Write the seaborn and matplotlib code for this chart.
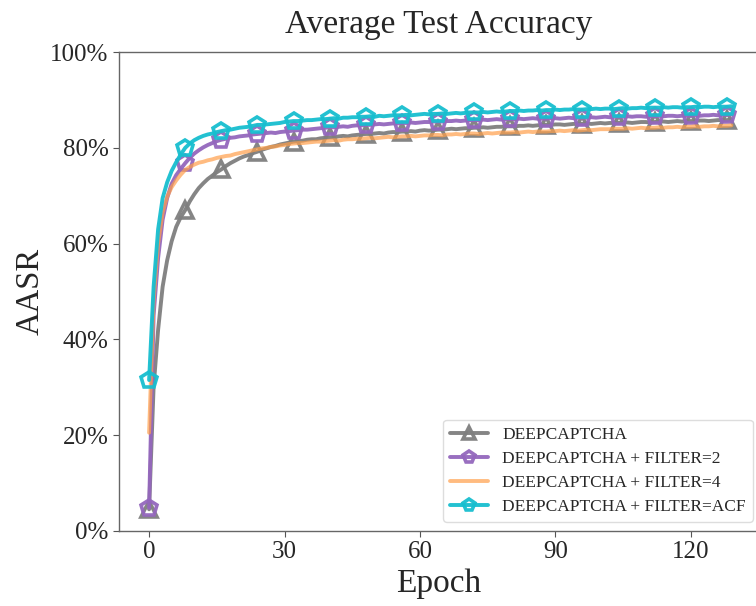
import matplotlib
matplotlib.use('Agg')
import matplotlib.pyplot as plt
import seaborn as sns
import pandas as pd
from matplotlib.ticker import PercentFormatter

epochs = list(range(130))

deepcaptcha = [
    4.5, 30.0, 42.0, 51.0, 56.5, 60.5, 63.5, 65.5, 67.0,
    68.8, 70.3, 71.6, 72.6, 73.5, 74.2, 74.9, 75.5,
    76.2, 76.8, 77.3, 77.8, 78.2, 78.5, 78.9, 79.2,
    79.6, 79.9, 80.2, 80.4, 80.7, 80.9, 81.1, 81.3,
    81.4, 81.5, 81.7, 81.8, 81.8, 82.0, 82.1, 82.2,
    82.2, 82.4, 82.5, 82.4, 82.6, 82.7, 82.8, 82.9,
    82.9, 83.0, 83.1, 83.0, 83.2, 83.3, 83.3, 83.4,
    83.4, 83.5, 83.4, 83.6, 83.7, 83.6, 83.7, 83.8,
    83.8, 83.9, 84.0, 83.9, 84.0, 84.1, 84.1, 84.2,
    84.2, 84.3, 84.2, 84.3, 84.4, 84.4, 84.5, 84.5,
    84.5, 84.6, 84.6, 84.7, 84.6, 84.7, 84.8, 84.8,
    84.8, 84.9, 84.9, 84.8, 84.9, 85.0, 85.0, 85.0,
    85.1, 85.0, 85.1, 85.2, 85.1, 85.2, 85.2, 85.2,
    85.3, 85.3, 85.2, 85.3, 85.4, 85.4, 85.3, 85.4,
    85.5, 85.5, 85.4, 85.5, 85.6, 85.5, 85.6, 85.6,
    85.6, 85.7, 85.7, 85.6, 85.7, 85.8, 85.8, 85.8,
    85.9,
]

filter_2 = [
    4.8, 45.0, 57.0, 65.0, 69.5, 72.5, 74.3, 75.6, 76.8,
    77.9, 78.8, 79.5, 80.1, 80.6, 81.0, 81.4, 81.7,
    81.9, 82.1, 82.2, 82.4, 82.5, 82.6, 82.8, 82.9,
    83.0, 83.1, 83.2, 83.1, 83.3, 83.4, 83.5, 83.6,
    83.7, 83.8, 83.8, 83.9, 84.0, 84.1, 84.2, 84.3,
    84.3, 84.4, 84.5, 84.4, 84.6, 84.7, 84.7, 84.8,
    84.8, 84.9, 85.0, 84.9, 85.0, 85.1, 85.1, 85.2,
    85.2, 85.3, 85.2, 85.3, 85.4, 85.4, 85.5, 85.5,
    85.5, 85.6, 85.6, 85.7, 85.6, 85.7, 85.8, 85.8,
    85.8, 85.9, 85.8, 85.9, 86.0, 85.9, 86.0, 86.0,
    86.0, 86.1, 86.0, 86.1, 86.2, 86.1, 86.1, 86.1,
    86.2, 86.2, 86.1, 86.2, 86.3, 86.2, 86.3, 86.3,
    86.3, 86.4, 86.3, 86.4, 86.5, 86.4, 86.5, 86.5,
    86.5, 86.6, 86.5, 86.6, 86.6, 86.5, 86.6, 86.6,
    86.7, 86.6, 86.7, 86.7, 86.6, 86.7, 86.7, 86.7,
    86.8, 86.7, 86.8, 86.8, 86.9, 86.8, 86.9, 86.9,
    87.0,
]

filter_4 = [
    20.5, 48.0, 60.0, 66.5, 69.8, 71.8, 73.2, 74.4, 75.4,
    76.0, 76.5, 76.9, 77.1, 77.4, 77.6, 77.9, 78.1,
    78.3, 78.4, 78.7, 78.9, 79.1, 79.3, 79.5, 79.7,
    79.9, 80.0, 80.2, 80.3, 80.5, 80.6, 80.8, 80.9,
    81.0, 81.0, 81.1, 81.2, 81.3, 81.3, 81.4, 81.5,
    81.6, 81.5, 81.7, 81.8, 81.8, 81.9, 81.9, 82.0,
    82.1, 82.0, 82.1, 82.2, 82.3, 82.2, 82.3, 82.4,
    82.4, 82.5, 82.4, 82.5, 82.6, 82.6, 82.7, 82.7,
    82.6, 82.8, 82.8, 82.9, 82.8, 82.9, 83.0, 83.0,
    82.9, 83.0, 83.1, 83.0, 83.1, 83.2, 83.2, 83.2,
    83.3, 83.2, 83.3, 83.4, 83.3, 83.4, 83.4, 83.4,
    83.5, 83.5, 83.6, 83.5, 83.6, 83.7, 83.6, 83.7,
    83.8, 83.7, 83.8, 83.9, 83.9, 83.9, 84.0, 84.0,
    84.0, 84.1, 84.0, 84.1, 84.2, 84.1, 84.2, 84.2,
    84.3, 84.2, 84.3, 84.3, 84.4, 84.3, 84.4, 84.4,
    84.5, 84.4, 84.5, 84.5, 84.6, 84.5, 84.6, 84.6,
    84.7,
]

filter_acf = [
    31.5, 51.0, 63.0, 69.5, 72.8, 75.2, 77.0, 78.6, 80.0,
    80.9, 81.6, 82.1, 82.5, 82.8, 83.0, 83.3, 83.5,
    83.7, 83.8, 84.0, 84.2, 84.3, 84.4, 84.6, 84.8,
    84.8, 84.9, 85.0, 85.1, 85.2, 85.4, 85.5, 85.6,
    85.6, 85.7, 85.8, 85.8, 85.9, 86.0, 86.0, 86.1,
    86.2, 86.1, 86.3, 86.3, 86.4, 86.4, 86.5, 86.5,
    86.6, 86.5, 86.7, 86.6, 86.7, 86.8, 86.8, 86.8,
    86.9, 86.8, 86.9, 87.0, 87.1, 87.0, 87.1, 87.1,
    87.2, 87.1, 87.2, 87.3, 87.2, 87.3, 87.4, 87.4,
    87.4, 87.5, 87.4, 87.5, 87.6, 87.5, 87.6, 87.7,
    87.7, 87.8, 87.7, 87.8, 87.8, 87.9, 87.8, 87.9,
    87.9, 88.0, 87.9, 88.0, 88.0, 88.1, 88.0, 88.0,
    88.1, 88.1, 88.2, 88.1, 88.2, 88.2, 88.1, 88.2,
    88.3, 88.2, 88.3, 88.3, 88.4, 88.3, 88.4, 88.4,
    88.4, 88.5, 88.4, 88.5, 88.5, 88.4, 88.5, 88.5,
    88.6, 88.5, 88.6, 88.6, 88.5, 88.6, 88.6, 88.6,
    88.7,
]

series_names = [
    'DEEPCAPTCHA',
    'DEEPCAPTCHA + FILTER=2',
    'DEEPCAPTCHA + FILTER=4',
    'DEEPCAPTCHA + FILTER=ACF',
]

sns.set_style('ticks')
plt.rcParams['font.family'] = ['Liberation Serif', 'DejaVu Serif']

fig = plt.figure(figsize=(7.56, 6.06), dpi=100)
# 右边框放在图像边缘之外（参考图中看不到右边框）
ax = fig.add_axes([0.1575, 0.124, 0.8455, 0.79])

# 样式：颜色、标记、透明度
styles = [
    dict(color='#7f7f7f', marker='^', alpha=0.95),
    dict(color='#9467bd', marker='p', alpha=0.95),
    dict(color='#ff9f4a', marker=None, alpha=0.7),
    dict(color='#17becf', marker='p', alpha=0.95),
]

for name, values, st in zip(series_names, [deepcaptcha, filter_2, filter_4, filter_acf], styles):
    df = pd.DataFrame({'epoch': epochs, 'acc': values})
    kw = dict(color=st['color'], alpha=st['alpha'], linewidth=2.8, label=name,
              linestyle='-', dashes=False)
    if st['marker']:
        kw.update(marker=st['marker'], markevery=8, markersize=12,
                  markerfacecolor='none', markeredgecolor=st['color'],
                  markeredgewidth=2.6)
    sns.lineplot(data=df, x='epoch', y='acc', ax=ax, **kw)

ax.set_ylim(0, 100)
ax.set_xlim(-6.65, 134.95)
ax.set_xticks([0, 30, 60, 90, 120])
ax.set_yticks([0, 20, 40, 60, 80, 100])
ax.yaxis.set_major_formatter(PercentFormatter(decimals=0))
ax.tick_params(labelsize=18, length=4, color='#555555')
for sp in ax.spines.values():
    sp.set_color('#666666')
    sp.set_linewidth(1.0)

ax.set_title('Average Test Accuracy', fontsize=24, pad=14)
ax.set_xlabel('Epoch', fontsize=24)
ax.set_ylabel('AASR', fontsize=23.5, labelpad=3)

ax.legend(loc='lower right', bbox_to_anchor=(0.9914, 0.0188), borderaxespad=0,
          fontsize=12.5, handlelength=2.2, labelspacing=0.45, markerscale=0.7,
          framealpha=1, edgecolor='#dddddd')

fig.savefig('out.png', dpi=100)
